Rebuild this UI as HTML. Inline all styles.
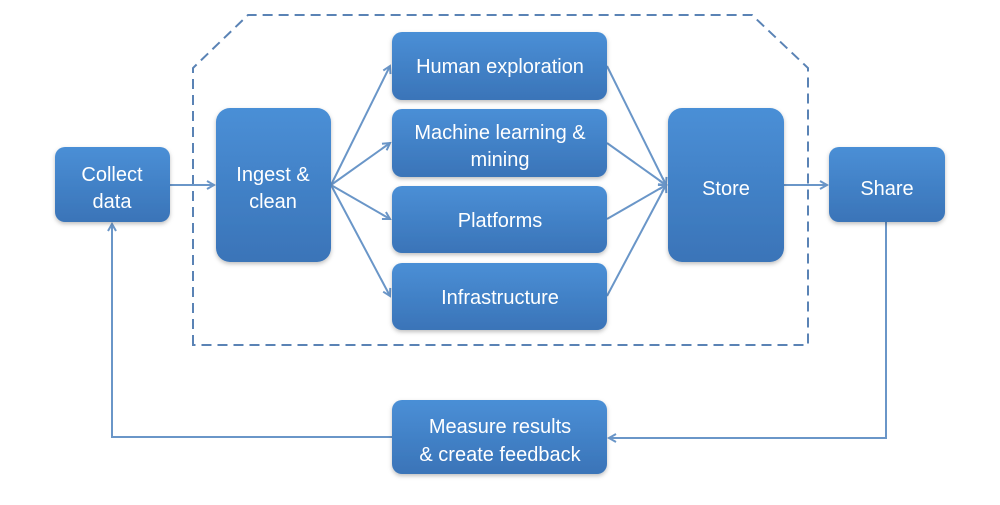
<!DOCTYPE html>
<html><head><meta charset="utf-8"><style>
body{margin:0;width:1000px;height:500px;background:#fff;overflow:hidden}
</style></head><body>
<svg width="1000" height="500" xmlns="http://www.w3.org/2000/svg">
<defs>
<linearGradient id="g" x1="0" y1="0" x2="0" y2="1">
<stop offset="0" stop-color="#4a8fd6"/><stop offset="1" stop-color="#3a74b8"/></linearGradient>
<marker id="a" markerWidth="10" markerHeight="10" refX="8" refY="5" orient="auto" markerUnits="userSpaceOnUse">
<path d="M1,1 L8,5 L1,9" fill="none" stroke="#6a96c8" stroke-width="2"/></marker>
<filter id="s" x="-10%" y="-10%" width="120%" height="130%"><feDropShadow dx="0" dy="2" stdDeviation="2" flood-color="#000" flood-opacity="0.25"/></filter>
</defs>
<path d="M193,345 L193,68 L248,15 L752,15 L808,68 L808,345 Z" fill="none" stroke="#5a83b5" stroke-width="2" stroke-dasharray="10,6"/>
<g stroke="#6a96c8" stroke-width="2" fill="none">
<line x1="170" y1="185" x2="214" y2="185" marker-end="url(#a)"/>
<line x1="331" y1="185" x2="390" y2="66" marker-end="url(#a)"/>
<line x1="331" y1="185" x2="390" y2="143" marker-end="url(#a)"/>
<line x1="331" y1="185" x2="390" y2="219" marker-end="url(#a)"/>
<line x1="331" y1="185" x2="390" y2="296" marker-end="url(#a)"/>
<line x1="607" y1="66" x2="666" y2="185" marker-end="url(#a)"/>
<line x1="607" y1="143" x2="666" y2="185" marker-end="url(#a)"/>
<line x1="607" y1="219" x2="666" y2="185" marker-end="url(#a)"/>
<line x1="607" y1="296" x2="666" y2="185" marker-end="url(#a)"/>
<line x1="784" y1="185" x2="827" y2="185" marker-end="url(#a)"/>
<polyline points="886,222 886,438 609,438" marker-end="url(#a)"/>
<polyline points="392,437 112,437 112,224" marker-end="url(#a)"/>
</g>
<g fill="url(#g)" filter="url(#s)">
<rect x="55" y="147" width="115" height="75" rx="10"/>
<rect x="216" y="108" width="115" height="154" rx="14"/>
<rect x="392" y="32" width="215" height="68" rx="10"/>
<rect x="392" y="109" width="215" height="68" rx="10"/>
<rect x="392" y="186" width="215" height="67" rx="10"/>
<rect x="392" y="263" width="215" height="67" rx="10"/>
<rect x="668" y="108" width="116" height="154" rx="14"/>
<rect x="829" y="147" width="116" height="75" rx="10"/>
<rect x="392" y="400" width="215" height="74" rx="10"/>
</g>
<g fill="#fff" font-family="Liberation Sans, sans-serif" font-size="20" text-anchor="middle">
<text x="112" y="181">Collect</text><text x="112" y="208">data</text>
<text x="273" y="181">Ingest &amp;</text><text x="273" y="208">clean</text>
<text x="500" y="73">Human exploration</text>
<text x="500" y="139">Machine learning &amp;</text><text x="500" y="166">mining</text>
<text x="500" y="227">Platforms</text>
<text x="500" y="304">Infrastructure</text>
<text x="726" y="195">Store</text>
<text x="887" y="195">Share</text>
<text x="500" y="433">Measure results</text><text x="500" y="461">&amp; create feedback</text>
</g>
</svg>
</body></html>
